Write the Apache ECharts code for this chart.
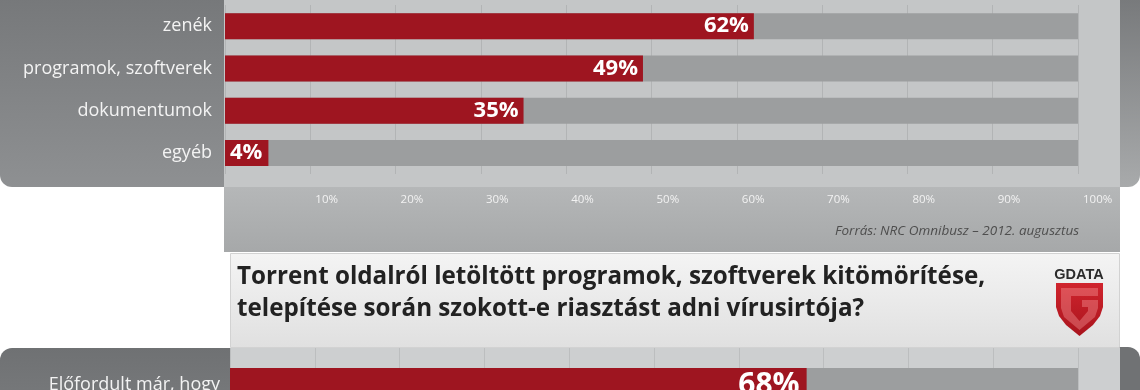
<!DOCTYPE html>
<html>
<head>
<meta charset="utf-8">
<script src="https://cdn.jsdelivr.net/npm/echarts@6/dist/echarts.min.js"></script>
<style>
  html, body { margin: 0; padding: 0; background: #ffffff; }
  #chart { width: 1140px; height: 390px; }
</style>
</head>
<body>
<div id="chart"></div>
<script>
// ---- data ----
const categoriesTop = ['zenék', 'programok, szoftverek', 'dokumentumok', 'egyéb'];
const valuesTop = [62, 49, 35, 4];
const categoriesBottom = ['Előfordult már, hogy'];
const valuesBottom = [68];
const axisMax = 100;
const axisStep = 10;
const titleLines = [
  'Torrent oldalról letöltött programok, szoftverek kitömörítése,',
  'telepítése során szokott-e riasztást adni vírusirtója?'
];
const sourceText = 'Forrás: NRC Omnibusz – 2012. augusztus';
const logoText = 'GDATA';

// ---- styles ----
const RED = '#9e1520';
const TRACK = '#9c9e9f';
const FONT = '"Open Sans", "Noto Sans", sans-serif';

const chart = echarts.init(document.getElementById('chart'), null, { renderer: 'canvas' });

function vgrad(c1, c2) {
  return {
    type: 'linear', x: 0, y: 0, x2: 0, y2: 1,
    colorStops: [{ offset: 0, color: c1 }, { offset: 1, color: c2 }]
  };
}

const topData = valuesTop.map((v, i) => {
  if (i === valuesTop.length - 1) {
    return {
      value: v,
      label: {
        position: 'insideLeft',
        distance: 0,
        backgroundColor: RED,
        padding: [0, 6, 0, 5],
        lineHeight: 26
      }
    };
  }
  return v;
});

// shield outline for the logo (decorative)
const shieldPts = [[1056, 283], [1103, 283], [1103, 307], [1100, 316], [1093, 325], [1079.5, 336],
  [1066, 325], [1059, 316], [1056, 307]];
const gPts = [[1061, 288], [1098, 288], [1098, 296], [1071, 296], [1071, 311], [1079.5, 321], [1088, 311],
  [1088, 307], [1082, 307], [1082, 300], [1098, 300], [1098, 308], [1095, 317], [1079.5, 330],
  [1064, 317], [1061, 308]];

const option = {
  animation: false,
  backgroundColor: '#ffffff',
  graphic: [
    { type: 'rect', z: -20, shape: { x: 0, y: -20, width: 250, height: 207, r: [0, 0, 0, 12] },
      style: { fill: vgrad('#747678', '#8e9092') } },
    { type: 'rect', z: -20, shape: { x: 1100, y: -20, width: 40, height: 207, r: [0, 0, 12, 0] },
      style: { fill: vgrad('#737577', '#a8aaab') } },
    { type: 'rect', z: -19, shape: { x: 224, y: -10, width: 896, height: 197 },
      style: { fill: '#c4c6c7' } },
    { type: 'rect', z: -19, shape: { x: 224, y: 187, width: 896, height: 65 },
      style: { fill: vgrad('#b5b7b8', '#a6a8a9') } },
    { type: 'rect', z: -20, shape: { x: 0, y: 348, width: 250, height: 80, r: [12, 0, 0, 0] },
      style: { fill: vgrad('#6f7173', '#7b7d7f') } },
    { type: 'rect', z: -20, shape: { x: 1100, y: 347, width: 40, height: 80, r: [0, 12, 0, 0] },
      style: { fill: '#707274' } },
    { type: 'rect', z: -19, shape: { x: 230, y: 348, width: 890, height: 80 },
      style: { fill: '#cdcfd0' } },
    { type: 'rect', z: -18, shape: { x: 230.5, y: 253.5, width: 889, height: 94 },
      style: { fill: vgrad('#f4f4f4', '#e0e0e0'), stroke: '#d2d2d2', lineWidth: 1 } },
    { type: 'text', z: 10, style: { text: titleLines[0], x: 237, y: 277, align: 'left', verticalAlign: 'middle',
      font: 'bold 24.2px ' + FONT, fill: '#222222' } },
    { type: 'text', z: 10, style: { text: titleLines[1], x: 237, y: 309, align: 'left', verticalAlign: 'middle',
      font: 'bold 24.2px ' + FONT, fill: '#222222' } },
    { type: 'text', z: 10, style: { text: sourceText, x: 1079, y: 231, align: 'right', verticalAlign: 'middle',
      font: 'italic 13.5px ' + FONT, fill: '#4e4e4e' } },
    { type: 'text', z: 10, style: { text: logoText, x: 1079, y: 275, align: 'center', verticalAlign: 'middle',
      font: '900 14.5px "Liberation Sans", "DejaVu Sans", sans-serif', fill: '#2b2b2b' } },
    { type: 'polygon', z: 10, shape: { points: shieldPts }, style: { fill: vgrad('#d0242d', '#a9141d') } },
    { type: 'polygon', z: 11, shape: { points: gPts }, style: { fill: 'rgba(255,170,170,0.35)' } }
  ],
  grid: [
    { left: 225, right: 62, top: 5, height: 169, containLabel: false, outerBoundsMode: 'none' },
    { left: 230, right: 62, top: 348, height: 74, containLabel: false, outerBoundsMode: 'none' }
  ],
  xAxis: [
    {
      gridIndex: 0, type: 'value', min: 0, max: axisMax, interval: axisStep,
      axisLine: { show: false }, axisTick: { show: false },
      splitLine: { show: true, lineStyle: { color: '#b2b4b5', width: 1 } },
      axisLabel: {
        show: true, showMinLabel: false, formatter: '{value}%', align: 'left',
        padding: [0, 0, 0, 5], margin: 20, color: '#f2f2f2', fontSize: 11.5, fontFamily: FONT
      }
    },
    {
      gridIndex: 1, type: 'value', min: 0, max: axisMax, interval: axisStep,
      axisLine: { show: false }, axisTick: { show: false }, axisLabel: { show: false },
      splitLine: { show: true, lineStyle: { color: '#bcbebf', width: 1 } }
    }
  ],
  yAxis: [
    {
      gridIndex: 0, type: 'category', inverse: true, data: categoriesTop,
      axisLine: { show: false }, axisTick: { show: false }, splitLine: { show: false },
      axisLabel: { margin: 13, color: '#f3f3f3', fontSize: 18, fontFamily: FONT }
    },
    {
      gridIndex: 1, type: 'category', inverse: true, data: categoriesBottom,
      axisLine: { show: false }, axisTick: { show: false }, splitLine: { show: false },
      axisLabel: { margin: 10, color: '#f3f3f3', fontSize: 18, fontFamily: FONT, padding: [0, 0, 18, 0] }
    }
  ],
  series: [
    {
      type: 'bar', xAxisIndex: 0, yAxisIndex: 0, data: topData, barWidth: 26,
      itemStyle: { color: RED },
      showBackground: true, backgroundStyle: { color: TRACK },
      label: {
        show: true, position: 'insideRight', distance: 5, formatter: '{c}%',
        color: '#ffffff', fontWeight: 'bold', fontSize: 22, fontFamily: FONT
      }
    },
    {
      type: 'bar', xAxisIndex: 1, yAxisIndex: 1, data: valuesBottom, barWidth: 34,
      itemStyle: { color: RED },
      showBackground: true, backgroundStyle: { color: TRACK },
      label: {
        show: true, position: 'insideRight', distance: 7, formatter: '{c}%',
        color: '#ffffff', fontWeight: 'bold', fontSize: 30, fontFamily: FONT
      }
    }
  ]
};

chart.setOption(option);
</script>
</body>
</html>
